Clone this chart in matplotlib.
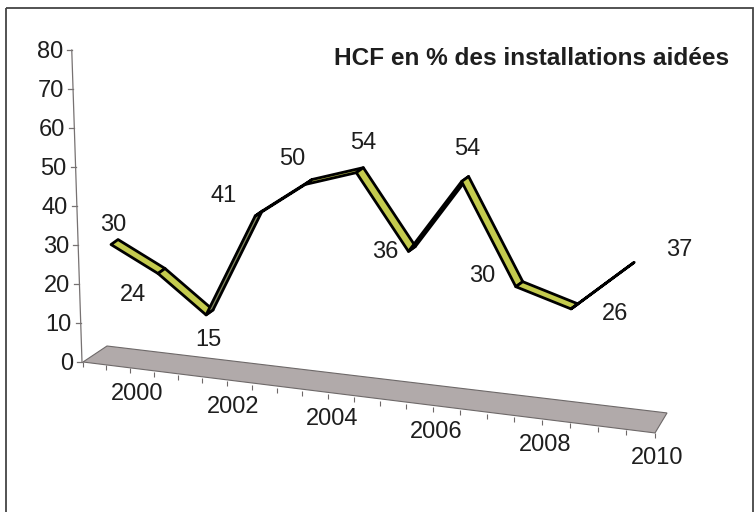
import numpy as np
import matplotlib
matplotlib.use("Agg")
import matplotlib.pyplot as plt
from matplotlib.transforms import Transform
from matplotlib.patches import Polygon, Rectangle
from matplotlib.collections import LineCollection

# --- data ---
years = list(range(2000, 2011))
hcf_pct = [30, 24, 15, 41, 50, 54, 36, 54, 30, 26, 37]
year_ticks = [2000, 2002, 2004, 2006, 2008, 2010]
y_ticks = [0, 10, 20, 30, 40, 50, 60, 70, 80]
title = "HCF en % des installations aidées"

# hand placed value labels (pixel offset from the point, y up)
label_offsets = [(-1.5, 19), (-28.5, -22), (-1.5, -25.5), (-35.5, 20.5), (-16, 25),
                 (3, 30), (-27, -1), (2, 32), (-37.5, 11), (40.5, -5.5), (49, 17)]

plt.rcParams['font.family'] = ['Liberation Sans', 'DejaVu Sans']
TEXT = '#1e1e1e'
FS = 17
HALF_CAP = 0.358 * FS * 100 / 72   # half digit height in pixels

W, H = 754, 512
fig = plt.figure(figsize=(W / 100, H / 100), dpi=100)
ax = fig.add_axes([0, 0, 1, 1])
ax.set_xlim(0, W)
ax.set_ylim(H, 0)
ax.axis('off')


class Perspective(Transform):
    """(category index, value) -> pixel, mimics the Excel 3D line view.
    plane 0 = front edge of the floor, 1 = back edge."""
    input_dims = output_dims = 2

    def __init__(self, plane=0.0):
        super().__init__()
        self.plane = plane

    def transform_non_affine(self, values):
        values = np.asarray(values, dtype=float).reshape(-1, 2)
        t = values[:, 0] + 0.5
        v = values[:, 1]
        x = 83 + 46.37 * t + 0.512 * t ** 2 + self.plane * (24 - 12 * t / 11)
        y = (362 + 6.45 * t - self.plane * (16 + 4 * t / 11)
             - 3.9 * (1 + 0.009 * t) * v)
        return np.column_stack([x, y])


floor_front = Perspective(0.0)
floor_back = Perspective(1.0)
ribbon = Perspective(0.35)

# floor
ends = np.array([[-0.5, 0], [len(years) - 0.5, 0]])
fl, fr = floor_front.transform(ends)
bl, br = floor_back.transform(ends)
ax.add_patch(Polygon([fl, fr, br, bl], closed=True, facecolor='#b1aaaa',
                     edgecolor='#6e6969', lw=0.8, zorder=1))

# category ticks along the front edge (two per year)
tick_idx = np.arange(-0.5, len(years) - 0.5 + 0.01, 0.5)
tick_pts = floor_front.transform(np.column_stack([tick_idx, np.zeros_like(tick_idx)]))
ax.add_collection(LineCollection([[p, p + (0, 5)] for p in tick_pts],
                                 colors='#6e6969', lw=0.8, zorder=2))

# year labels
for yr in year_ticks:
    px, py = floor_front.transform([[yr - years[0], 0]])[0]
    ax.text(px + 30.5, py + 26 + HALF_CAP, str(yr), fontsize=FS, color=TEXT,
            ha='center', va='baseline')

# value axis (slightly leaning, as in the picture)
slant = 0.128
ax_pts = [(fl[0] - 1 - slant * v, fl[1] - 3.9 * v) for v in (0, y_ticks[-1])]
ax.plot(*zip(*ax_pts), color='#777272', lw=0.9, zorder=2)
for v in y_ticks:
    x0, y0 = fl[0] - 1 - slant * v, fl[1] - 3.9 * v
    ax.plot([x0 - 5, x0], [y0, y0], color='#777272', lw=0.9, zorder=2)
    ax.text(x0 - 9, y0 + HALF_CAP, str(v), fontsize=FS, color=TEXT,
            ha='right', va='baseline')

# ribbon line
pts = ribbon.transform(np.column_stack([np.arange(len(years)), hcf_pct]))
depth_vec = np.array([7.0, -5.0])
for k in range(len(pts) - 1):
    a, b = pts[k], pts[k + 1]
    quad = [a - depth_vec / 2, b - depth_vec / 2, b + depth_vec / 2, a + depth_vec / 2]
    seg = b - a
    top_visible = seg[0] * depth_vec[1] - seg[1] * depth_vec[0] < 0
    ax.add_patch(Polygon(quad, closed=True,
                         facecolor='#c4cb4e' if top_visible else '#858a62',
                         edgecolor='black', lw=2.0, joinstyle='round', zorder=3))

# value labels
for k, (val, off) in enumerate(zip(hcf_pct, label_offsets)):
    ax.annotate(str(val), xy=(k, val), xycoords=ribbon + ax.transData,
                xytext=(off[0], off[1] - HALF_CAP), textcoords='offset pixels',
                fontsize=FS, color=TEXT, ha='center', va='baseline', zorder=4)

ax.text(531.5, 65, title, fontsize=17.6, fontweight='bold', color=TEXT,
        ha='center', va='baseline')

# outer frame
ax.add_patch(Rectangle((6, 8), 747, 520, fill=False, edgecolor='#444444',
                       lw=1.3, clip_on=False))

fig.savefig('out.png', dpi=100)
